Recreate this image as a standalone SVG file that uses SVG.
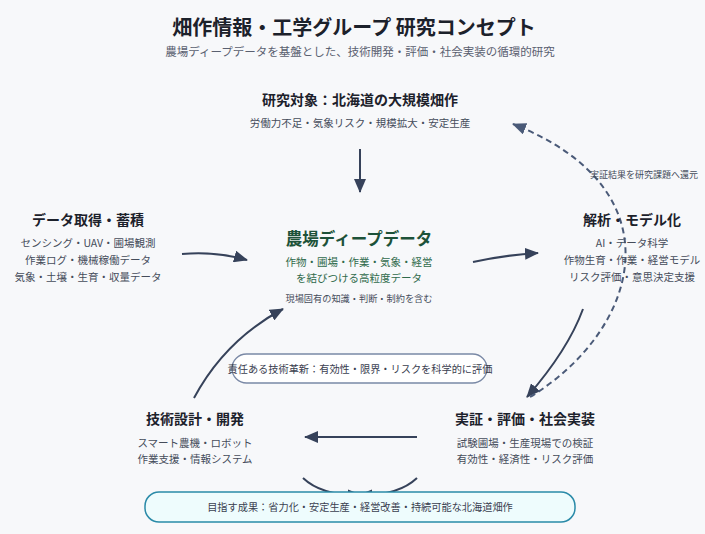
<svg xmlns="http://www.w3.org/2000/svg" width="705" height="534" viewBox="0 0 705 534">
  <style>
    text { font-family: "Noto Sans CJK JP", "Noto Sans", sans-serif; text-anchor: middle; }
    .title { font-size: 20px; font-weight: bold; fill: #1c212b; }
    .subtitle { font-size: 11.5px; fill: #5a6070; }
    .head { font-size: 14px; font-weight: bold; fill: #1c212b; }
    .sub { font-size: 10.5px; fill: #454c5a; }
    .core { font-size: 16.5px; font-weight: bold; fill: #1d5239; }
    .coresub { font-size: 10.5px; fill: #2f6a4b; }
    .note { font-size: 9.2px; fill: #454c5a; }
    .small { font-size: 9px; fill: #454c5a; }
    .boxtext { font-size: 10.2px; fill: #3a4050; }
    .arrow { fill: none; stroke: #36425a; stroke-width: 2; }
    .dash { fill: none; stroke: #4a5a78; stroke-width: 2; stroke-dasharray: 6 4; }
  </style>
  <defs>
    <marker id="ah" viewBox="0 0 14 12" markerWidth="14" markerHeight="12" refX="13" refY="6" orient="auto" markerUnits="userSpaceOnUse">
      <path d="M0,0 L14,6 L0,12 Z" fill="#36425a"/>
    </marker>
    <marker id="ahd" viewBox="0 0 14 12" markerWidth="14" markerHeight="12" refX="13" refY="6" orient="auto" markerUnits="userSpaceOnUse">
      <path d="M0,0 L14,6 L0,12 Z" fill="#4a5a78"/>
    </marker>
  </defs>
  <rect width="705" height="534" fill="#f7f8fa"/>

  <g id="title">
    <text class="title" x="354" y="35">畑作情報・工学グループ 研究コンセプト</text>
    <text class="subtitle" x="360" y="56">農場ディープデータを基盤とした、技術開発・評価・社会実装の循環的研究</text>
  </g>

  <g id="connectors">
    <path class="arrow" d="M360 149 L360 192" marker-end="url(#ah)"/>
    <path class="arrow" d="M182 254 Q215 251 247 260" marker-end="url(#ah)"/>
    <path class="arrow" d="M473 262 Q505 255 538 253" marker-end="url(#ah)"/>
    <path class="arrow" d="M583 309 Q568 350 527 397" marker-end="url(#ah)"/>
    <path class="arrow" d="M417 437 L305 437" marker-end="url(#ah)"/>
    <path class="arrow" d="M194 398 Q225 340 283 309" marker-end="url(#ah)"/>
    <path class="dash" d="M530 397 C640 330 680 190 513 124" marker-end="url(#ahd)"/>
    <path class="arrow" d="M303 478 Q322 496 361 495" marker-end="url(#ah)"/>
    <path class="arrow" d="M417 478 Q398 496 359 495" marker-end="url(#ah)"/>
    <text class="small" x="644" y="178">実証結果を研究課題へ還元</text>
  </g>

  <g id="target">
    <text class="head" x="360" y="105">研究対象：北海道の大規模畑作</text>
    <text class="sub" x="360" y="127">労働力不足・気象リスク・規模拡大・安定生産</text>
  </g>

  <g id="data">
    <text class="head" x="88" y="225">データ取得・蓄積</text>
    <text class="sub" x="88" y="247">センシング・UAV・圃場観測</text>
    <text class="sub" x="88" y="264">作業ログ・機械稼働データ</text>
    <text class="sub" x="88" y="281">気象・土壌・生育・収量データ</text>
  </g>

  <g id="core">
    <text class="core" x="359" y="245">農場ディープデータ</text>
    <text class="coresub" x="359" y="266">作物・圃場・作業・気象・経営</text>
    <text class="coresub" x="359" y="282">を結びつける高粒度データ</text>
    <text class="note" x="359" y="302">現場固有の知識・判断・制約を含む</text>
  </g>

  <g id="analysis">
    <text class="head" x="632" y="225">解析・モデル化</text>
    <text class="sub" x="632" y="247">AI・データ科学</text>
    <text class="sub" x="632" y="264">作物生育・作業・経営モデル</text>
    <text class="sub" x="632" y="281">リスク評価・意思決定支援</text>
  </g>

  <g id="rri">
    <rect x="232" y="354" width="255" height="29" rx="14.5" fill="#ffffff" stroke="#7a89a6" stroke-width="1.3"/>
    <text class="boxtext" x="360" y="373">責任ある技術革新：有効性・限界・リスクを科学的に評価</text>
  </g>

  <g id="design">
    <text class="head" x="195" y="424">技術設計・開発</text>
    <text class="sub" x="195" y="447">スマート農機・ロボット</text>
    <text class="sub" x="195" y="463">作業支援・情報システム</text>
  </g>

  <g id="demo">
    <text class="head" x="525" y="424">実証・評価・社会実装</text>
    <text class="sub" x="525" y="447">試験圃場・生産現場での検証</text>
    <text class="sub" x="525" y="463">有効性・経済性・リスク評価</text>
  </g>

  <g id="outcome">
    <rect x="145" y="492" width="430" height="30" rx="14" fill="#eefcfd" stroke="#2a8aa8" stroke-width="1.5"/>
    <text class="boxtext" x="360" y="511">目指す成果：省力化・安定生産・経営改善・持続可能な北海道畑作</text>
  </g>
</svg>
